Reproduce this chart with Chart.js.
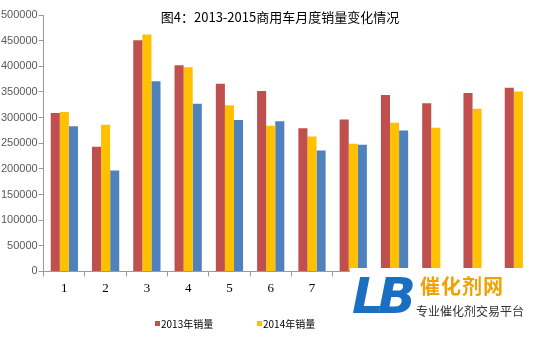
<!DOCTYPE html>
<html>
<head>
<meta charset="utf-8">
<script src="https://cdn.jsdelivr.net/npm/chart.js@4/dist/chart.umd.min.js"></script>
<style>
  html, body { margin: 0; padding: 0; background: #fff; }
  #wrap { position: relative; width: 541px; height: 338px; }
  #mark { position: absolute; left: 350px; top: 268px; width: 191px; height: 70px; background: #fff; }
  #logo { position: absolute; left: 2px; top: 2px; font: italic bold 50px "DejaVu Sans", sans-serif; color: #1b6fc2; letter-spacing: -6px; line-height: 52px; }
  #site { position: absolute; left: 70px; top: 6px; font: bold 20px "Noto Sans CJK SC", sans-serif; color: #f2a200; line-height: 24px; letter-spacing: 1px; }
  #slogan { position: absolute; left: 66px; top: 35px; font: 12px "Noto Sans CJK SC", sans-serif; color: #333; line-height: 16px; }
</style>
</head>
<body>
<div id="wrap">
  <canvas id="myChart"></canvas>
  <div id="mark">
    <div id="logo">LB</div>
    <div id="site">催化剂网</div>
    <div id="slogan">专业催化剂交易平台</div>
  </div>
</div>
<script>
const titulo = '图4：2013-2015商用车月度销量变化情况';
const meses = ['1', '2', '3', '4', '5', '6', '7', '8', '9', '10', '11', '12'];
const ventas2013 = [309000, 243000, 451000, 402000, 366000, 352000, 279000, 296000, 344000, 328000, 348000, 358000];
const ventas2014 = [311000, 286000, 462000, 398000, 324000, 284000, 263000, 249000, 290000, 280000, 317000, 351000];
const ventas2015 = [283000, 197000, 371000, 327000, 295000, 293000, 236000, 247000, 275000, null, null, null];

// title is drawn over the plot, like in the original picture
const tituloPlugin = {
    id: 'titulo',
    afterDraw(chart) {
        const c = chart.ctx;
        c.save();
        c.font = '13px "Noto Sans CJK SC"';
        c.fillStyle = '#000';
        c.textAlign = 'center';
        c.textBaseline = 'middle';
        c.fillText(titulo, 280, 17);
        c.restore();
    }
};

// legend at the bottom, items spaced wide apart
const leyendaPlugin = {
    id: 'leyenda',
    afterDraw(chart) {
        const c = chart.ctx;
        c.save();
        c.font = '10px "Noto Sans CJK SC"';
        c.textBaseline = 'middle';
        chart.data.datasets.forEach((ds, i) => {
            const x = 155 + i * 102;
            const y = 324;
            c.fillStyle = ds.backgroundColor;
            c.fillRect(x, y - 3, 5, 5);
            c.fillStyle = '#000';
            c.fillText(ds.label, x + 6, y);
        });
        c.restore();
    }
};

const ctx = document.getElementById('myChart').getContext('2d');
const myChart = new Chart(ctx, {
    type: 'bar',
    data: {
        labels: meses,
        datasets: [{
            label: '2013年销量',
            data: ventas2013,
            backgroundColor: '#C0504D'
        },
        {
            label: '2014年销量',
            data: ventas2014,
            backgroundColor: '#FFC000'
        },
        {
            label: '2015年销量',
            data: ventas2015,
            backgroundColor: '#4F81BD'
        }]
    },
    options: {
        responsive: true,
        maintainAspectRatio: false,
        animation: false,
        layout: { padding: { top: 15, right: 2, left: 0, bottom: 38 } },
        datasets: {
            bar: { categoryPercentage: 0.66, barPercentage: 1.0 }
        },
        plugins: {
            tooltip: { enabled: false },
            legend: { display: false }
        },
        scales: {
            x: {
                grid: { display: true, drawOnChartArea: false, drawTicks: true, tickLength: 5, color: '#9a9a9a', offset: true },
                border: { color: '#9a9a9a' },
                ticks: { color: '#000', font: { size: 13, family: '"Liberation Serif"' }, padding: 4 }
            },
            y: {
                beginAtZero: true,
                min: 0,
                max: 500000,
                grid: { display: true, drawOnChartArea: false, drawTicks: true, tickLength: 5, color: '#9a9a9a' },
                border: { color: '#9a9a9a' },
                ticks: {
                    stepSize: 50000,
                    color: '#595959',
                    font: { size: 11, family: '"Liberation Sans"' },
                    padding: 1,
                    callback: v => String(v)
                }
            }
        }
    },
    plugins: [tituloPlugin, leyendaPlugin]
});
</script>
</body>
</html>
